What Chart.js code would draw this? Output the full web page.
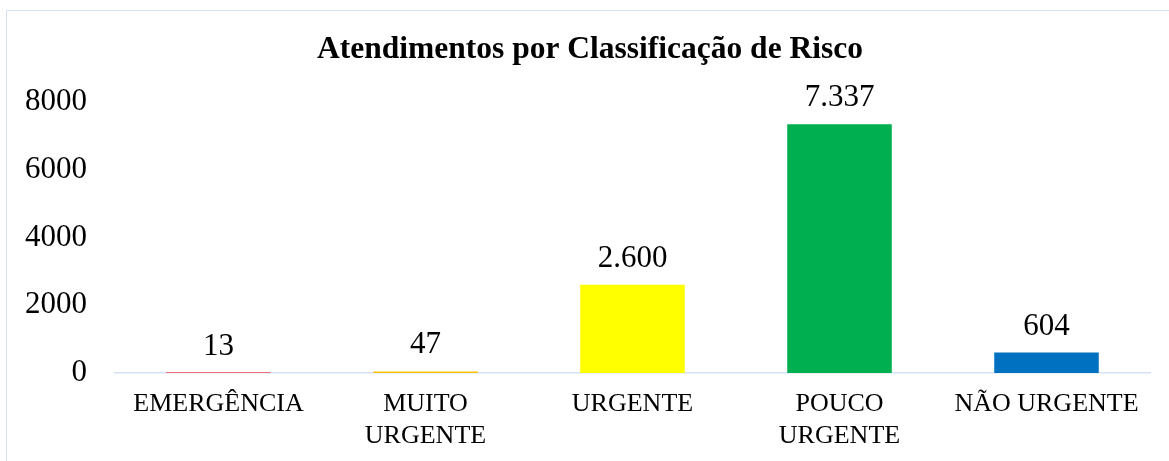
<!DOCTYPE html>
<html>
<head>
<meta charset="utf-8">
<script src="https://cdn.jsdelivr.net/npm/chart.js@4.4.1/dist/chart.umd.min.js"></script>
<style>
  body { margin: 0; background: #fff; }
  #wrap { position: relative; width: 1169px; height: 461px; overflow: hidden; }
  #frame { position: absolute; left: 6px; top: 10px; width: 1200px; height: 500px;
           border: 1.5px solid #d6e2f5; pointer-events: none; }
  canvas { position: absolute; left: 0; top: 0; }
</style>
</head>
<body>
<div id="wrap">
  <canvas id="barChart" width="1169" height="461"></canvas>
  <div id="frame"></div>
</div>
<script>
const categories = ["EMERGÊNCIA", ["MUITO", "URGENTE"], "URGENTE", ["POUCO", "URGENTE"], "NÃO URGENTE"];
const atendimentos = [13, 47, 2600, 7337, 604];
const barColors = ["#ff0000", "#ffc000", "#ffff00", "#00b050", "#0070c0"];
const yTicks = [0, 2000, 4000, 6000, 8000];

// valores em cima das barras (formato pt-BR: 7.337)
const valueLabels = {
  id: "valueLabels",
  afterLayout(chart) {
    // título centrado um pouco mais à direita, como no original
    if (chart.titleBlock) chart.titleBlock.left += 30;
  },
  afterDatasetsDraw(chart) {
    const ctx = chart.ctx;
    const meta = chart.getDatasetMeta(0);
    ctx.save();
    ctx.font = "31px 'Liberation Serif'";
    ctx.fillStyle = "#000";
    ctx.textAlign = "center";
    ctx.textBaseline = "alphabetic";
    meta.data.forEach((bar, i) => {
      const v = chart.data.datasets[0].data[i];
      ctx.fillText(v.toLocaleString("pt-BR"), bar.x, bar.y - 18);
    });
    ctx.restore();
  }
};

const barCtx = document.getElementById("barChart").getContext("2d");
new Chart(barCtx, {
  type: "bar",
  data: {
    labels: categories,
    datasets: [{
      label: "Atendimentos",
      data: atendimentos,
      backgroundColor: barColors,
      barPercentage: 0.505,
      categoryPercentage: 1
    }]
  },
  options: {
    responsive: false,
    animation: false,
    layout: { padding: { left: 0, right: 19, top: 0, bottom: 10 } },
    scales: {
      x: {
        afterFit(scale) { scale.height = 78; },
        grid: { display: false, drawTicks: false },
        border: { display: true, color: "#d6e2f5", width: 1.5 },
        ticks: {
          color: "#000",
          padding: 15,
          maxRotation: 0,
          autoSkip: false,
          font: { family: "'Liberation Serif'", size: 26, lineHeight: 1.23 }
        }
      },
      y: {
        min: 0,
        max: 8000,
        afterBuildTicks(scale) { scale.ticks = yTicks.map(v => ({ value: v })); },
        afterFit(scale) { scale.width = 115; },
        grid: { display: false, drawTicks: false },
        border: { display: false },
        ticks: {
          color: "#000",
          padding: 28,
          callback: v => String(v),
          font: { family: "'Liberation Serif'", size: 31 }
        }
      }
    },
    plugins: {
      legend: { display: false },
      tooltip: { enabled: false },
      title: {
        display: true,
        text: "Atendimentos por Classificação de Risco",
        color: "#000",
        font: { family: "'Liberation Serif'", size: 31.5, weight: "bold", lineHeight: 1.2 },
        padding: { top: 31, bottom: 33 }
      }
    }
  },
  plugins: [valueLabels]
});
</script>
</body>
</html>
